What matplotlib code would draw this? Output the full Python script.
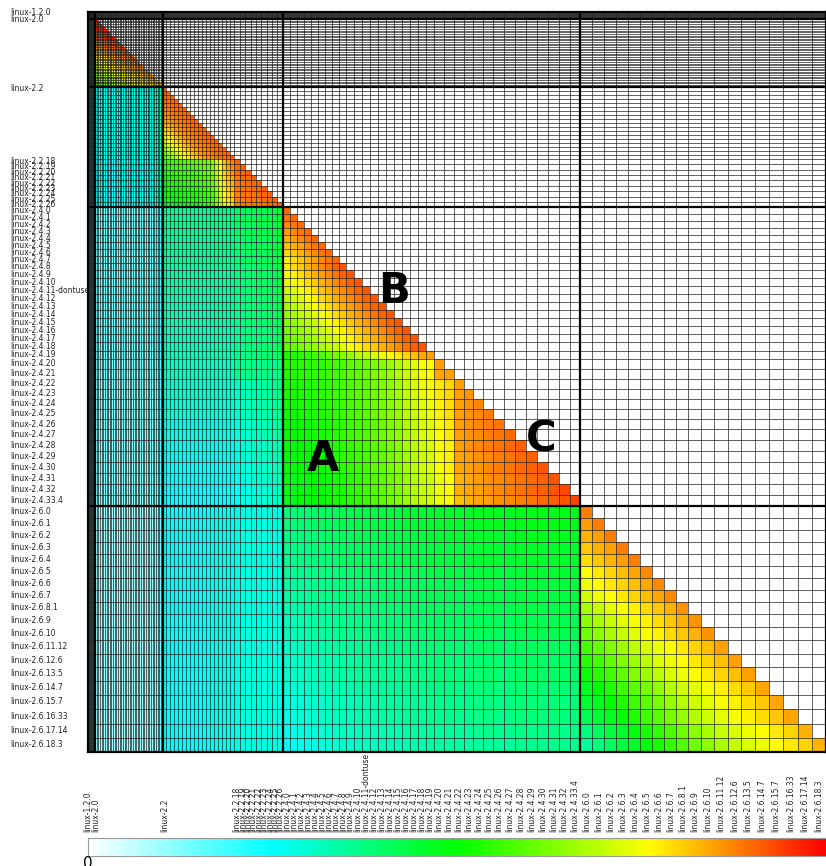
import matplotlib
matplotlib.use("Agg")

import matplotlib.pyplot as plt
import numpy as np
from matplotlib.colors import LinearSegmentedColormap
from matplotlib.transforms import blended_transform_factory

W, H = 826, 866

# --- releases, one cell each (empty label = unlabelled release) ---
labels_12 = ["linux-1.2.0"] + [""] * 13
labels_20 = ["linux-2.0"] + [""] * 40
labels_22a = ["linux-2.2"] + [""] * 17
labels_22b = ["linux-2.2.18", "linux-2.2.19", "linux-2.2.20", "linux-2.2.21", "linux-2.2.22",
              "linux-2.2.23", "linux-2.2.24", "linux-2.2.25", "linux-2.2.26"]
labels_24a = ["linux-2.4.0", "linux-2.4.1", "linux-2.4.2", "linux-2.4.3", "linux-2.4.4",
              "linux-2.4.5", "linux-2.4.6", "linux-2.4.7", "linux-2.4.8", "linux-2.4.9",
              "linux-2.4.10", "linux-2.4.11-dontuse", "linux-2.4.12", "linux-2.4.13",
              "linux-2.4.14", "linux-2.4.15", "linux-2.4.16", "linux-2.4.17", "linux-2.4.18",
              "linux-2.4.19"]
labels_24m = ["linux-2.4.20", "linux-2.4.21"]
labels_24c = ["linux-2.4.22", "linux-2.4.23", "linux-2.4.24", "linux-2.4.25", "linux-2.4.26",
              "linux-2.4.27", "linux-2.4.28", "linux-2.4.29", "linux-2.4.30", "linux-2.4.31",
              "linux-2.4.32", "linux-2.4.33.4"]
labels_26 = ["linux-2.6.0", "linux-2.6.1", "linux-2.6.2", "linux-2.6.3", "linux-2.6.4",
             "linux-2.6.5", "linux-2.6.6", "linux-2.6.7", "linux-2.6.8.1", "linux-2.6.9",
             "linux-2.6.10", "linux-2.6.11.12", "linux-2.6.12.6", "linux-2.6.13.5",
             "linux-2.6.14.7", "linux-2.6.15.7", "linux-2.6.16.33", "linux-2.6.17.14",
             "linux-2.6.18.3"]

# relative cell size of each release (code size)
size_12 = [0.5] * 14
size_20 = [1.65] * 41
size_22a = [4.0] * 18
size_22b = [5.4] * 9
size_24a = [7] * 9 + [8] * 11
size_24m = [10, 10]
size_24c = [10] * 4 + [10.9] * 8
size_26 = [12] * 9 + [13, 13, 14, 13, 14, 14, 14, 15, 14, 14]

# --- similarity inside a series: value by distance from diagonal + per-row shift ---
decay_12 = [0.9] * 14
shift_12 = [0.0] * 14
decay_20 = [0.97, 0.97, 0.96, 0.96, 0.95, 0.95, 0.94, 0.94, 0.93, 0.93,
            0.92, 0.92, 0.91, 0.91, 0.90, 0.90, 0.89, 0.88, 0.88, 0.87,
            0.86, 0.86, 0.85, 0.84, 0.84, 0.83, 0.82, 0.82, 0.81, 0.80,
            0.80, 0.79, 0.78, 0.78, 0.77, 0.76, 0.76, 0.75, 0.74, 0.74, 0.73]
shift_20 = [0.0] * 10 + [-0.01, -0.01, -0.02, -0.02, -0.03, -0.03, -0.04, -0.04, -0.05, -0.05,
                         -0.06, -0.06, -0.07, -0.07, -0.08, -0.08, -0.09, -0.09, -0.10, -0.10,
                         -0.11, -0.11, -0.12, -0.12, -0.13, -0.13, -0.14, -0.14, -0.15, -0.15, -0.16]
decay_22a = [0.90, 0.90, 0.89, 0.89, 0.88, 0.87, 0.86, 0.85, 0.83, 0.81,
             0.79, 0.77, 0.74, 0.71, 0.68, 0.65, 0.62, 0.59]
shift_22a = [0.0] * 18
decay_22b = [0.91, 0.90, 0.90, 0.89, 0.89, 0.89, 0.88, 0.88, 0.88]
shift_22b = [0.0] * 9
decay_24a = [0.90, 0.89, 0.87, 0.85, 0.83, 0.81, 0.79, 0.77, 0.75, 0.73,
             0.71, 0.69, 0.67, 0.65, 0.63, 0.62, 0.60, 0.59, 0.58, 0.57]
shift_24a = [0.0] * 8 + [0.02] * 11 + [-0.05]
decay_24m = [0.85, 0.84]
shift_24m = [0.0, 0.0]
decay_24c = [0.85, 0.84, 0.83, 0.82, 0.81, 0.80, 0.79, 0.78, 0.77, 0.76, 0.75, 0.74]
shift_24c = [0.0, 0.01, 0.02, 0.03, 0.04, 0.05, 0.06, 0.06, 0.07, 0.07, 0.08, 0.08]
decay_26 = [0.88, 0.85, 0.83, 0.81, 0.79, 0.77, 0.75, 0.72, 0.69, 0.66,
            0.63, 0.60, 0.57, 0.54, 0.51, 0.49, 0.46, 0.43, 0.40]
shift_26 = [0.0] * 5 + [-0.01] * 3 + [-0.02] * 3 + [-0.03] * 3 + [-0.04] * 3 + [-0.05] * 2

# --- similarity across series: value per column + per-row shift ---
col_22_20 = [0.26] * 33 + [0.27, 0.28, 0.29, 0.30, 0.31, 0.32, 0.33, 0.34]
col_24_20 = [0.14] * 34 + [0.15, 0.16, 0.17, 0.18, 0.19, 0.20, 0.21]
col_26_20 = [0.09] * 34 + [0.10, 0.11, 0.12, 0.13, 0.14, 0.15, 0.16]
col_22b_22a = [0.47, 0.48, 0.48, 0.49, 0.49, 0.50, 0.50, 0.51, 0.51, 0.52,
               0.53, 0.54, 0.56, 0.62, 0.68, 0.74, 0.77, 0.79]
row_22b_22a = [0.08, 0.07, 0.06, 0.05, 0.04, 0.03, 0.02, 0.01, 0.0]
col_24a_22a = [0.34] * 12 + [0.35] * 6
row_24a_22 = [0.02, 0.02, 0.02, 0.02, 0.01, 0.01, 0.01, 0.01, 0.0, 0.0,
              0.0, 0.0, -0.01, -0.01, -0.01, -0.01, -0.02, -0.02, -0.02, -0.02]
col_24a_22b = [0.38, 0.38, 0.39, 0.39, 0.40, 0.40, 0.41, 0.41, 0.42]
col_24c_22b = [0.31, 0.32, 0.32, 0.33, 0.33, 0.34, 0.34, 0.35, 0.36]
row_24c_22 = [0.0, 0.0, -0.01, -0.01, -0.02, -0.02, -0.03, -0.03, -0.04, -0.04, -0.05, -0.05]
col_24b_24a = [0.48, 0.48, 0.49, 0.49, 0.50, 0.50, 0.51, 0.52, 0.53, 0.54,
               0.55, 0.56, 0.58, 0.59, 0.61, 0.63, 0.66, 0.68, 0.70, 0.71]
row_24m = [0.05, 0.05]
row_24c = [0.04, 0.04, 0.03, 0.03, 0.02, 0.02, 0.01, 0.01, 0.01, 0.0, 0.0, 0.0]
col_24c_24m = [0.74, 0.76]
col_26_22a = [0.26] * 12 + [0.27] * 6
col_26_24a = [0.34, 0.34, 0.35, 0.35, 0.36, 0.36, 0.37, 0.37, 0.38, 0.38,
              0.39, 0.39, 0.39, 0.40, 0.40, 0.40, 0.41, 0.41, 0.41, 0.42]
col_26_24m = [0.42, 0.42]
col_26_24c = [0.42, 0.42, 0.43, 0.43, 0.43, 0.43, 0.44, 0.44, 0.44, 0.44, 0.44, 0.44]
row_26_24 = [0.04, 0.04, 0.03, 0.02, 0.02, 0.01, 0.0, 0.0, -0.01, -0.02,
             -0.02, -0.03, -0.04, -0.04, -0.05, -0.06, -0.06, -0.07, -0.08]

series = [
    ("12", labels_12, size_12, decay_12, shift_12),
    ("20", labels_20, size_20, decay_20, shift_20),
    ("22a", labels_22a, size_22a, decay_22a, shift_22a),
    ("22b", labels_22b, size_22b, decay_22b, shift_22b),
    ("24a", labels_24a, size_24a, decay_24a, shift_24a),
    ("24m", labels_24m, size_24m, decay_24m, shift_24m),
    ("24c", labels_24c, size_24c, decay_24c, shift_24c),
    ("26", labels_26, size_26, decay_26, shift_26),
]

# (row series, column series) -> (per-column value, per-row shift)
cross = {
    ("20", "12"): (0.35, 0.0),
    ("22a", "12"): (0.27, 0.0), ("22b", "12"): (0.27, 0.0),
    ("24a", "12"): (0.20, 0.0), ("24m", "12"): (0.20, 0.0), ("24c", "12"): (0.20, 0.0),
    ("26", "12"): (0.15, 0.0),
    ("22a", "20"): (col_22_20, 0.0), ("22b", "20"): (col_22_20, -0.01),
    ("24a", "20"): (col_24_20, 0.0), ("24m", "20"): (col_24_20, -0.01),
    ("24c", "20"): (col_24_20, -0.02),
    ("26", "20"): (col_26_20, 0.0),
    ("22b", "22a"): (col_22b_22a, row_22b_22a),
    ("24a", "22a"): (col_24a_22a, row_24a_22), ("24a", "22b"): (col_24a_22b, row_24a_22),
    ("24m", "22a"): (0.31, 0.0), ("24m", "22b"): (0.36, 0.0),
    ("24c", "22a"): (0.30, row_24c_22), ("24c", "22b"): (col_24c_22b, row_24c_22),
    ("24m", "24a"): (col_24b_24a, row_24m), ("24c", "24a"): (col_24b_24a, row_24c),
    ("24c", "24m"): (col_24c_24m, row_24c),
    ("26", "22a"): (col_26_22a, 0.0), ("26", "22b"): (0.28, 0.0),
    ("26", "24a"): (col_26_24a, row_26_24), ("26", "24m"): (col_26_24m, row_26_24),
    ("26", "24c"): (col_26_24c, row_26_24),
}

major_breaks = ["20", "22a", "24a", "26"]  # thick line before these series


def build_matrix():
    n = sum(len(s[2]) for s in series)
    mat = np.full((n, n), np.nan)
    starts, pos = {}, 0
    for name, _, sizes, _, _ in series:
        starts[name] = pos
        pos += len(sizes)
    for rname, _, rsizes, decay, shift in series:
        r0, nr = starts[rname], len(rsizes)
        for i in range(nr):
            for j in range(i + 1):
                mat[r0 + i, r0 + j] = decay[i - j] + shift[i]
        for cname, _, csizes, _, _ in series:
            if (rname, cname) not in cross:
                continue
            c0, nc = starts[cname], len(csizes)
            colv, rowv = cross[(rname, cname)]
            colv = np.broadcast_to(np.asarray(colv, float), (nc,))
            rowv = np.broadcast_to(np.asarray(rowv, float), (nr,))
            mat[r0:r0 + nr, c0:c0 + nc] = rowv[:, None] + colv[None, :]
    return np.clip(mat, 0, 1), starts


def main():
    mat, starts = build_matrix()
    sizes = np.concatenate([s[2] for s in series])
    labels = sum([s[1] for s in series], [])
    edges = np.concatenate([[0], np.cumsum(sizes)])
    centers = (edges[:-1] + edges[1:]) / 2
    total = edges[-1]

    cmap = LinearSegmentedColormap.from_list(
        "sim", [(0.0, "#ffffff"), (0.25, "#00ffff"), (0.5, "#00ff00"),
                (0.76, "#ffff00"), (0.88, "#ff8000"), (1.0, "#ff0000")])

    fig = plt.figure(figsize=(W / 100, H / 100), dpi=100)
    ax = fig.add_axes([88 / W, 1 - 752 / H, 738 / W, 740 / H])
    ax.pcolormesh(edges, edges, np.ma.masked_invalid(mat), cmap=cmap, vmin=0, vmax=1,
                  shading="flat", antialiased=False)
    ax.set_xlim(0, total)
    ax.set_ylim(total, 0)
    ax.set_xticks([])
    ax.set_yticks([])

    # fine grid, one line per release
    inner = edges[1:-1]
    ax.vlines(inner, 0, total, colors="#222222", linewidth=0.5)
    ax.hlines(inner, 0, total, colors="#222222", linewidth=0.5)
    # thick lines between major series
    for name in major_breaks:
        b = edges[starts[name]]
        ax.axvline(b, color="black", linewidth=1.6)
        ax.axhline(b, color="black", linewidth=1.6)
    for sp in ax.spines.values():
        sp.set_linewidth(1.6)
        sp.set_color("black")

    # release names, left and bottom
    row_tr = blended_transform_factory(fig.transFigure, ax.transData)
    col_tr = blended_transform_factory(ax.transData, fig.transFigure)
    for lab, c in zip(labels, centers):
        if not lab:
            continue
        ax.text(10 / W, c, lab, transform=row_tr, ha="left", va="center",
                fontsize=5.5, color="#222222", clip_on=False)
        ax.text(c, 1 - 832 / H, lab, transform=col_tr, ha="center", va="bottom",
                rotation=90, fontsize=5.5, color="#222222", clip_on=False)

    # region markers
    for letter, x, y in [("A", 323, 459), ("B", 394, 291), ("C", 541, 439)]:
        fig.text(x / W, 1 - y / H, letter, ha="center", va="center",
                 fontsize=30, fontweight="bold", color="black")

    # colour scale
    cax = fig.add_axes([88 / W, 1 - 856 / H, 738 / W, 18 / H])
    cax.imshow(np.linspace(0, 1, 512)[None, :], cmap=cmap, aspect="auto",
               extent=(0, 1, 0, 1))
    cax.set_xticks([])
    cax.set_yticks([])
    for sp in cax.spines.values():
        sp.set_color("#999999")
        sp.set_linewidth(0.8)
    fig.text(83 / W, 1 - 856 / H, "0", ha="left", va="top", fontsize=11, color="black")

    fig.savefig("out.png", dpi=100)


if __name__ == "__main__":
    main()
